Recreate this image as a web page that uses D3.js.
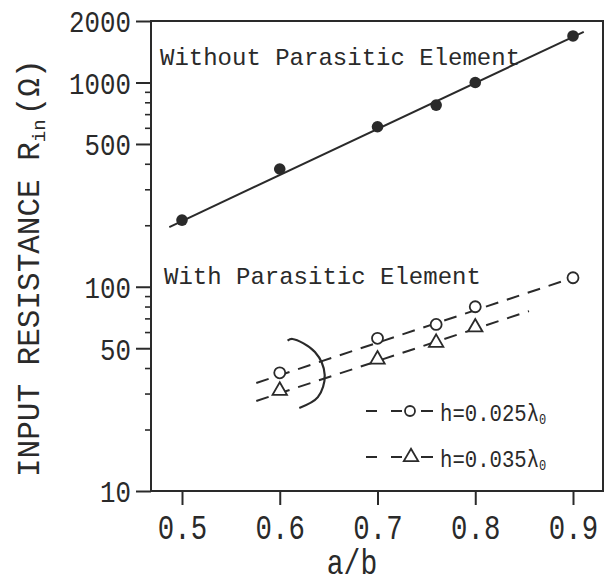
<!DOCTYPE html>
<html><head><meta charset="utf-8">
<script src="https://cdn.jsdelivr.net/npm/d3@7"></script>
<style>body{margin:0;background:#fff}</style>
</head><body><svg id="c" width="604" height="586"></svg>
<script>
// ---- data ----
const abWithout  = [0.5, 0.6, 0.7, 0.76, 0.8, 0.9];
const rinWithout = [212, 377, 607, 775, 1000, 1690];
const abH025  = [0.6, 0.7, 0.76, 0.8, 0.9];
const rinH025 = [37.9, 55.9, 65.4, 79.8, 110.7];
const abH035  = [0.6, 0.7, 0.76, 0.8];
const rinH035 = [31, 44.1, 53.2, 63.3];
const fitWithoutAb = [0.487, 0.911], fitWithoutRin = [196, 1771];
const fitH025Ab = [0.576, 0.9],  fitH025Rin = [33.8, 110.7];
const fitH035Ab = [0.576, 0.855], fitH035Rin = [27.6, 76];
const bracketAb  = [0.608, 0.613, 0.636, 0.646, 0.639, 0.620];
const bracketRin = [54.5, 55.5, 47.9, 37.0, 28.8, 25.5];
const xTicks = [0.5, 0.6, 0.7, 0.8, 0.9];
const yMajor = [10, 50, 100, 500, 1000, 2000];
const yMinor = [20, 30, 40, 60, 70, 80, 90, 200, 300, 400, 600, 700, 800, 900];
const legendLabels = ["h=0.025", "h=0.035"];

const ink = "#2a2a2a";
const svg = d3.select("#c");
const L = 151, R = 603, T = 21, B = 491;
const x = d3.scaleLinear().domain([0.5, 0.9]).range([182, 573]);
const y = d3.scaleLog().domain([10, 2000]).range([B, T]);

function squeeze(sel, sx) {
  sel.each(function () {
    const t = d3.select(this);
    const ox = +t.attr("x") || 0;
    t.attr("x", ox / sx).attr("transform", `scale(${sx},1)`);
  });
}

// frame
svg.append("rect").attr("x", L).attr("y", T).attr("width", R - L).attr("height", B - T)
  .attr("fill", "none").attr("stroke", ink).attr("stroke-width", 2);

// y axis major
const gy = svg.append("g").attr("transform", `translate(${L},0)`)
  .call(d3.axisLeft(y).tickValues(yMajor).tickSize(15).tickPadding(5).tickFormat(d3.format("d")));
gy.select(".domain").remove();
gy.selectAll("line").attr("stroke", ink).attr("stroke-width", 2);
gy.selectAll("text").attr("font-family", "Liberation Mono, monospace").attr("font-size", 30)
  .attr("fill", ink).attr("dy", "0.36em").call(squeeze, 0.86);
// y axis minor
const gym = svg.append("g").attr("transform", `translate(${L},0)`)
  .call(d3.axisLeft(y).tickValues(yMinor).tickSize(6).tickFormat(""));
gym.select(".domain").remove();
gym.selectAll("line").attr("stroke", ink).attr("stroke-width", 1.6);

// x axis
const gx = svg.append("g").attr("transform", `translate(0,${B})`)
  .call(d3.axisBottom(x).tickValues(xTicks).tickSize(14).tickPadding(8).tickFormat(d3.format(".1f")));
gx.select(".domain").remove();
gx.selectAll("line").attr("stroke", ink).attr("stroke-width", 2);
gx.selectAll("text").attr("font-family", "Liberation Mono, monospace").attr("font-size", 36)
  .attr("fill", ink).attr("dy", "0.72em").call(squeeze, 0.76);

// axis titles
svg.append("text").attr("x", 352 / 0.8).attr("y", 574).attr("transform", "scale(0.8,1)")
  .attr("text-anchor", "middle").attr("font-family", "Liberation Mono, monospace")
  .attr("font-size", 35).attr("fill", ink).text("a/b");

const yt = svg.append("text").attr("transform", "translate(39,477) rotate(-90)")
  .attr("font-family", "Liberation Mono, monospace").attr("font-size", 31).attr("fill", ink);
yt.append("tspan").text("INPUT RESISTANCE R");
yt.append("tspan").attr("font-size", 19).attr("dy", 6).text("in");
yt.append("tspan").attr("dy", -6).attr("dx", 4).text("(Ω)");

// lines
const line = d3.line().x(d => x(d[0])).y(d => y(d[1]));
svg.append("path").attr("d", line(d3.zip(fitWithoutAb, fitWithoutRin)))
  .attr("fill", "none").attr("stroke", ink).attr("stroke-width", 2);
svg.append("path").attr("d", line(d3.zip(fitH025Ab, fitH025Rin)))
  .attr("fill", "none").attr("stroke", ink).attr("stroke-width", 2).attr("stroke-dasharray", "13,9");
svg.append("path").attr("d", line(d3.zip(fitH035Ab, fitH035Rin)))
  .attr("fill", "none").attr("stroke", ink).attr("stroke-width", 2).attr("stroke-dasharray", "13,9");
svg.append("path").attr("d", d3.line().curve(d3.curveCatmullRom).x(d => x(d[0])).y(d => y(d[1]))(d3.zip(bracketAb, bracketRin)))
  .attr("fill", "none").attr("stroke", ink).attr("stroke-width", 2.2);

// markers
svg.selectAll(".fc").data(d3.zip(abWithout, rinWithout)).join("circle")
  .attr("cx", d => x(d[0])).attr("cy", d => y(d[1])).attr("r", 5.8).attr("fill", ink);
svg.selectAll(".oc").data(d3.zip(abH025, rinH025)).join("circle").attr("class", "oc")
  .attr("cx", d => x(d[0])).attr("cy", d => y(d[1])).attr("r", 5.5)
  .attr("fill", "#fff").attr("stroke", ink).attr("stroke-width", 1.8);
const tri = d3.symbol().type(d3.symbolTriangle).size(90);
svg.selectAll(".tr").data(d3.zip(abH035, rinH035)).join("path").attr("class", "tr")
  .attr("d", tri).attr("transform", d => `translate(${x(d[0])},${y(d[1])})`)
  .attr("fill", "#fff").attr("stroke", ink).attr("stroke-width", 1.8);

// annotations
const mono = "Liberation Mono, monospace";
svg.append("text").attr("x", 160).attr("y", 65).attr("font-family", mono).attr("font-size", 24)
  .attr("fill", ink).text("Without Parasitic Element");
svg.append("text").attr("x", 164).attr("y", 284).attr("font-family", mono).attr("font-size", 24)
  .attr("fill", ink).text("With Parasitic Element");

// legend
const legY = [411, 457];
legY.forEach((ly, i) => {
  const g = svg.append("g");
  [[366, 377], [391, 402], [421, 433]].forEach(s =>
    g.append("line").attr("x1", s[0]).attr("x2", s[1]).attr("y1", ly).attr("y2", ly)
      .attr("stroke", ink).attr("stroke-width", 2));
  if (i === 0) g.append("circle").attr("cx", 410).attr("cy", ly).attr("r", 5)
      .attr("fill", "#fff").attr("stroke", ink).attr("stroke-width", 1.8);
  else g.append("path").attr("d", tri).attr("transform", `translate(411,${ly})`)
      .attr("fill", "#fff").attr("stroke", ink).attr("stroke-width", 1.8);
  const t = g.append("text").attr("x", 440 / 0.86).attr("y", ly + 10).attr("transform", "scale(0.86,1)")
    .attr("font-family", mono).attr("font-size", 24).attr("fill", ink);
  t.append("tspan").text(legendLabels[i] + "λ");
  t.append("tspan").attr("font-size", 14).attr("dy", 3).text("0");
});
</script></body></html>
